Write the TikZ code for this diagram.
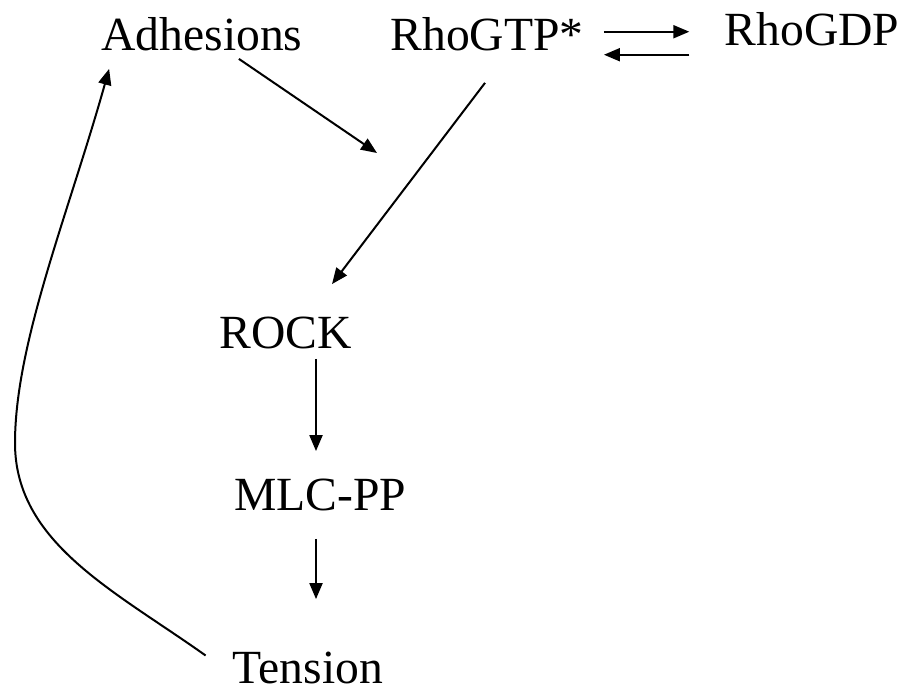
\documentclass[tikz,border=0pt]{standalone}
\usepackage{fontspec}
\setmainfont{Liberation Serif}
\usetikzlibrary{arrows.meta, calc}
\tikzset{
  >={Triangle[length=8pt,width=6.5pt]},
  species/.style={inner sep=4pt, anchor=base, font=\fontsize{23.8}{28}\selectfont},
  path/.style={->, line width=1pt},
}

\begin{document}
\begin{tikzpicture}[x=0.5pt, y=-0.5pt]
      \useasboundingbox (0,0) rectangle (908,692);

      \node[species] (adh)  at (202,50)  {Adhesions};
      \node[species] (gtp)  at (487,50)  {RhoGTP*};
      \node[species] (gdp)  at (812,45)  {RhoGDP};
      \node[species] (rock) at (286,348) {ROCK};
      \node[species] (mlc)  at (320,510) {MLC-PP};
      \node[species] (ten)  at (308,683) {Tension};
      \coordinate (act)  at (377,153);
      \coordinate (bend) at (15,443);

      % exchange
      \draw[path] ($(gtp.east)+(12,-2)$) -- ($(gdp.west |- gtp.east)+(-27,-2)$);
      \draw[path] ($(gdp.west |- gtp.east)+(-27,21)$) -- ($(gtp.east)+(12,21)$);

      % cascade
      \draw[path] (adh) -- (act);
      \draw[path] ($(gtp.south)+(-2,24)$) -- ($(rock.north)+(46,-24)$);
      \draw[path] ($(rock.south -| mlc.south)+(-4,2)$) -- ($(mlc.north)+(-4,-19)$);
      \draw[path] ($(mlc.south)+(-4,20)$) -- ($(ten.north)+(8,-44)$);

      % feedback
      \draw[path] ($(ten.west)+(-19,-12)$) .. controls (115,591) and (15,543) .. (bend)
            .. controls (15,343) and (69,212) .. ($(adh.south west)+(16,10)$);
\end{tikzpicture}
\end{document}
